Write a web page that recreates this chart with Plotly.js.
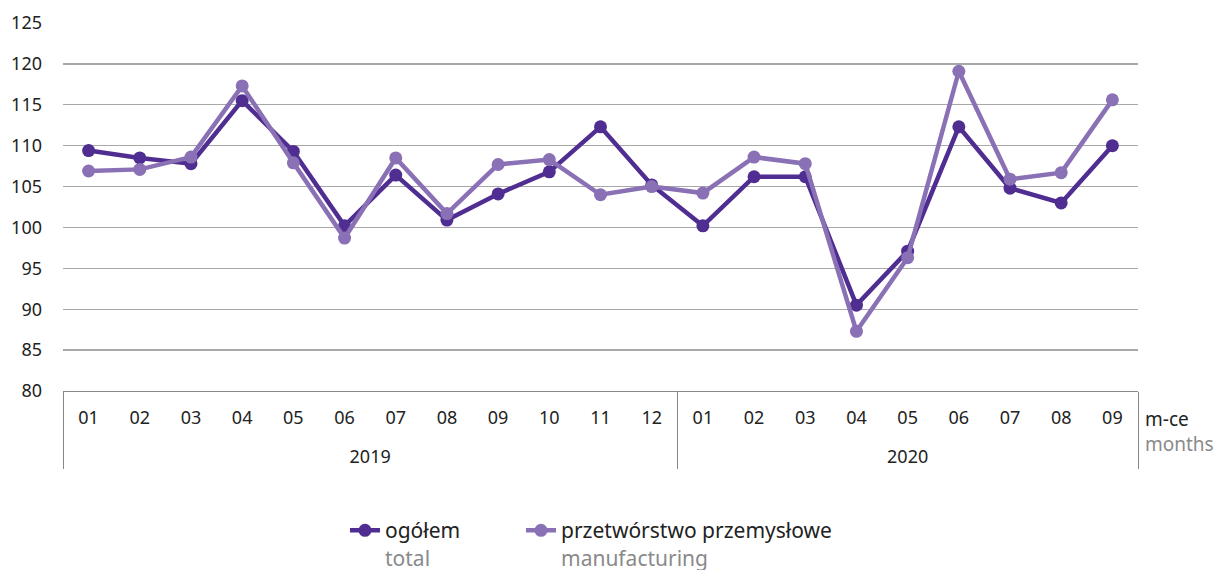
<!DOCTYPE html>
<html>
<head>
<meta charset="utf-8">
<script src="https://cdn.plot.ly/plotly-3.0.1.min.js"></script>
<style>html,body{margin:0;padding:0;background:#fff;}#chart{width:1224px;height:570px;}</style>
</head>
<body>
<div id="chart"></div>
<script>
const years = ["2019","2019","2019","2019","2019","2019","2019","2019","2019","2019","2019","2019",
               "2020","2020","2020","2020","2020","2020","2020","2020","2020"];
const months = ["01","02","03","04","05","06","07","08","09","10","11","12",
                "01","02","03","04","05","06","07","08","09"];
const ogolem = [109.4,108.5,107.8,115.5,109.3,100.2,106.4,100.9,104.1,106.8,112.3,105.2,
                100.2,106.2,106.2,90.5,97.1,112.3,104.8,103.0,110.0];
const przetworstwo = [106.9,107.1,108.6,117.3,107.9,98.7,108.5,101.7,107.7,108.3,104.0,105.0,
                      104.2,108.6,107.8,87.3,96.3,119.1,105.9,106.7,115.6];
const yTicks = [80,85,90,95,100,105,110,115,120,125];

const dark = '#4f2d91';
const light = '#8a70b5';
const font = 'Noto Sans, Fira Sans, sans-serif';

const yearLabels = years.map(y => '<br>' + y);

const traces = [
  {x:[yearLabels,months], y:ogolem, type:'scatter', mode:'lines+markers',
   name:'ogółem<br><span style="color:#8a8a8a">total</span>', legend:'legend',
   line:{color:dark,width:4.5}, marker:{color:dark,size:13}},
  {x:[yearLabels,months], y:przetworstwo, type:'scatter', mode:'lines+markers',
   name:'przetwórstwo przemysłowe<br><span style="color:#8a8a8a">manufacturing</span>', legend:'legend2',
   line:{color:light,width:4.5}, marker:{color:light,size:13}}
];

const legendBase = {orientation:'h', yref:'container', y:0.105, yanchor:'top', xanchor:'left',
                    valign:'top', font:{size:21, color:'#222'}, bgcolor:'rgba(0,0,0,0)'};

const layout = {
  width:1224, height:570,
  margin:{l:63, r:86, t:23, b:179},
  paper_bgcolor:'#fff', plot_bgcolor:'#fff',
  font:{family:font, size:18, color:'#222'},
  showlegend:true,
  legend:Object.assign({}, legendBase, {xref:'container', x:345/1224}),
  legend2:Object.assign({}, legendBase, {xref:'container', x:521/1224}),
  xaxis:{type:'multicategory', range:[-0.5,20.5], automargin:false, showgrid:false,
         showline:true, linecolor:'#888', linewidth:1,
         ticks:'', ticklabelstandoff:10,
         showdividers:true, dividercolor:'#888', dividerwidth:1,
         tickfont:{size:18, color:'#222'}},
  yaxis:{range:[80,125], tickvals:yTicks, ticktext:yTicks.map(String), automargin:false,
         showgrid:true, gridcolor:'#a8a8a8', gridwidth:1.3, zeroline:false,
         showline:false, ticks:'', tickfont:{size:18,color:'#222'}, ticklabelstandoff:20, fixedrange:true},
  annotations:[
    {xref:'paper', yref:'paper', x:1.005, y:-0.075, xanchor:'left', yanchor:'middle',
     text:'m-ce', showarrow:false, font:{size:19,color:'#222'}},
    {xref:'paper', yref:'paper', x:1.005, y:-0.143, xanchor:'left', yanchor:'middle',
     text:'months', showarrow:false, font:{size:19,color:'#8a8a8a'}}
  ]
};

Plotly.newPlot('chart', traces, layout, {displayModeBar:false, staticPlot:true});
</script>
</body>
</html>
